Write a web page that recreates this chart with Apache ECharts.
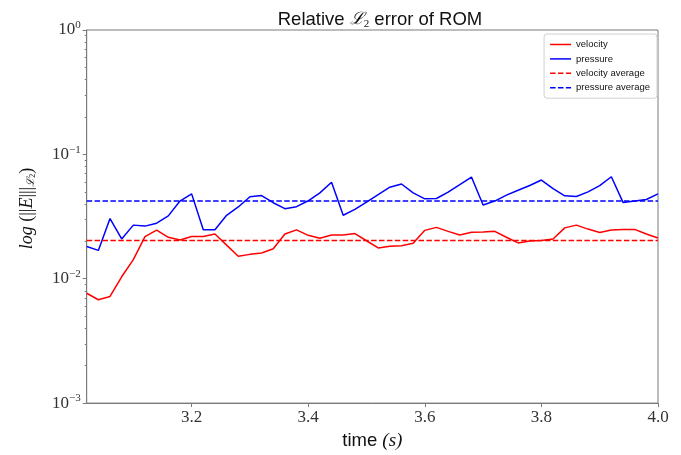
<!DOCTYPE html>
<html>
<head>
<meta charset="utf-8">
<script src="https://cdn.jsdelivr.net/npm/echarts@6/dist/echarts.min.js"></script>
<style>html,body{margin:0;padding:0;background:#fff;}#c{width:681px;height:455px;}</style>
</head>
<body>
<div id="c"></div>
<script>
const times = [3.02,3.04,3.06,3.08,3.10,3.12,3.14,3.16,3.18,3.20,
  3.22,3.24,3.26,3.28,3.30,3.32,3.34,3.36,3.38,3.40,
  3.42,3.44,3.46,3.48,3.50,3.52,3.54,3.56,3.58,3.60,
  3.62,3.64,3.66,3.68,3.70,3.72,3.74,3.76,3.78,3.80,
  3.82,3.84,3.86,3.88,3.90,3.92,3.94,3.96,3.98,4.00];
const velocity = [0.00764,0.00678,0.00720,0.01037,0.01423,0.02183,0.02462,0.02154,0.02051,0.02183,
  0.02183,0.02289,0.01862,0.01514,0.01570,0.01608,0.01740,0.02289,0.02470,0.02234,
  0.02115,0.02248,0.02248,0.02310,0.02020,0.01769,0.01821,0.01845,0.01930,0.02449,
  0.02587,0.02404,0.02248,0.02360,0.02375,0.02404,0.02154,0.01941,0.02014,0.02028,
  0.02089,0.02564,0.02698,0.02507,0.02352,0.02462,0.02493,0.02493,0.02289,0.02128];
const pressure = [0.01817,0.01690,0.03049,0.02089,0.02698,0.02649,0.02798,0.03203,0.04213,0.04813,
  0.02480,0.02480,0.03238,0.03776,0.04560,0.04667,0.04085,0.03660,0.03797,0.04236,
  0.04903,0.05963,0.03238,0.03614,0.04137,0.04753,0.05442,0.05778,0.04903,0.04393,
  0.04418,0.04966,0.05706,0.06570,0.03917,0.04213,0.04700,0.05150,0.05623,0.06218,
  0.05303,0.04642,0.04584,0.04993,0.05603,0.06607,0.04107,0.04213,0.04338,0.04813];
const velocityAverage = 0.0203;
const pressureAverage = 0.0421;
const averageSpan = [3.02, 4.00];
const xTicks = [3.2, 3.4, 3.6, 3.8, 4.0];
const yMajorTicks = [0.001, 0.01, 0.1, 1];
const yMinorTicks = [0.002,0.003,0.004,0.005,0.006,0.007,0.008,0.009,
  0.02,0.03,0.04,0.05,0.06,0.07,0.08,0.09,
  0.2,0.3,0.4,0.5,0.6,0.7,0.8,0.9];
const seriesNames = ['velocity', 'pressure', 'velocity average', 'pressure average'];

const zip = (xs, ys) => xs.map((x, i) => [x, ys[i]]);
const spinColor = '#7a7a7a';
const serif = 'Liberation Serif';
const sans = 'Liberation Sans';
const solidIcon = 'path://M0,0h21v1.5h-21z';
const dashIcon = 'path://M0,0h5.5v1.5h-5.5zM7.9,0h5.5v1.5h-5.5zM15.8,0h5.2v1.5h-5.2z';

const chart = echarts.init(document.getElementById('c'), null, {renderer: 'canvas'});
chart.setOption({
  animation: false,
  backgroundColor: '#fff',
  title: {
    text: '{t|Relative }{m|ℒ}{s|2}{t| error of ROM}',
    left: 375, top: 5, textAlign: 'center',
    textStyle: {
      fontWeight: 'normal',
      rich: {
        t: {fontFamily: sans, fontSize: 18.5, fontWeight: 'normal', color: '#111'},
        m: {fontFamily: 'DejaVu Serif', fontStyle: 'italic', fontWeight: 'normal', fontSize: 17, color: '#111'},
        s: {fontFamily: serif, fontSize: 11, fontWeight: 'normal', color: '#111', verticalAlign: 'bottom', padding: [9, 0, 0, 0]}
      }
    }
  },
  grid: {left: 86.7, right: 23, top: 30, bottom: 47, show: true, borderColor: spinColor, borderWidth: 1, backgroundColor: 'transparent'},
  legend: {
    data: [
      {name: seriesNames[0], icon: solidIcon},
      {name: seriesNames[1], icon: solidIcon},
      {name: seriesNames[2], icon: dashIcon},
      {name: seriesNames[3], icon: dashIcon}
    ],
    orient: 'vertical',
    right: 24, top: 34,
    itemWidth: 21, itemHeight: 1.5, itemGap: 3.4,
    symbolKeepAspect: false,
    padding: [5, 7, 5, 6],
    backgroundColor: '#fff',
    borderColor: '#d0d0d0', borderWidth: 1, borderRadius: 3,
    textStyle: {fontFamily: sans, fontSize: 9.5, color: '#111', lineHeight: 11}
  },
  xAxis: {
    type: 'value', min: 3.02, max: 4.0,
    name: '{t|time }{m|(s)}', nameLocation: 'middle', nameGap: 24,
    nameTextStyle: {rich: {
      t: {fontFamily: sans, fontSize: 18.5, color: '#111'},
      m: {fontFamily: serif, fontStyle: 'italic', fontSize: 19, color: '#111'}
    }},
    axisLine: {show: true, lineStyle: {color: spinColor, width: 1}},
    axisTick: {show: true, length: 4, inside: false, customValues: xTicks, lineStyle: {color: spinColor}},
    axisLabel: {customValues: xTicks, fontFamily: serif, fontSize: 17, color: '#333', margin: 6,
      formatter: v => v.toFixed(1)},
    splitLine: {show: false}
  },
  yAxis: [{
    type: 'log', logBase: 10, min: 0.001, max: 1,
    name: '{a|log}{b| (||}{a|E}{b||||}{m|ℒ}{s|2}{b|)}', nameLocation: 'middle', nameGap: 50, nameRotate: 90,
    nameTextStyle: {padding: [0, 0, 0, 16], rich: {
      a: {fontFamily: serif, fontStyle: 'italic', fontSize: 18, color: '#111'},
      b: {fontFamily: serif, fontSize: 18, color: '#111'},
      m: {fontFamily: 'DejaVu Serif', fontStyle: 'italic', fontSize: 11, color: '#111', verticalAlign: 'bottom', padding: [6, 0, 0, 0]},
      s: {fontFamily: serif, fontSize: 8, color: '#111', verticalAlign: 'bottom', padding: [10, 0, 0, 0]}
    }},
    axisLine: {show: true, lineStyle: {color: spinColor, width: 1}},
    axisTick: {show: true, length: 4, inside: false, customValues: yMajorTicks, lineStyle: {color: spinColor}},
    axisLabel: {
      customValues: yMajorTicks, margin: 6,
      formatter: v => {
        const e = Math.round(Math.log10(v));
        return '{b|10}{e|' + (e === 0 ? '0' : '\u2212' + (-e)) + '}';
      },
      rich: {
        b: {fontFamily: serif, fontSize: 17, color: '#333'},
        e: {fontFamily: serif, fontSize: 11, color: '#333', verticalAlign: 'top', padding: [0, 0, 9, 0]}
      }
    },
    splitLine: {show: false}
  }, {
    type: 'log', logBase: 10, min: 0.001, max: 1, position: 'left',
    axisLine: {show: false},
    axisTick: {show: true, length: 2, inside: false, customValues: yMinorTicks, lineStyle: {color: spinColor}},
    axisLabel: {show: false},
    splitLine: {show: false}
  }],
  series: [
    {name: 'velocity', type: 'line', data: zip(times, velocity), symbol: 'none', showSymbol: false,
      color: '#ff0000', lineStyle: {width: 1.5, color: '#ff0000'}},
    {name: 'pressure', type: 'line', data: zip(times, pressure), symbol: 'none', showSymbol: false,
      color: '#0000ff', lineStyle: {width: 1.5, color: '#0000ff'}},
    {name: 'velocity average', type: 'line', data: averageSpan.map(t => [t, velocityAverage]), symbol: 'none', showSymbol: false,
      color: '#ff0000', lineStyle: {width: 1.5, color: '#ff0000', type: [5.5, 2.4]}},
    {name: 'pressure average', type: 'line', data: averageSpan.map(t => [t, pressureAverage]), symbol: 'none', showSymbol: false,
      color: '#0000ff', lineStyle: {width: 1.5, color: '#0000ff', type: [5.5, 2.4]}}
  ]
});
</script>
</body>
</html>
